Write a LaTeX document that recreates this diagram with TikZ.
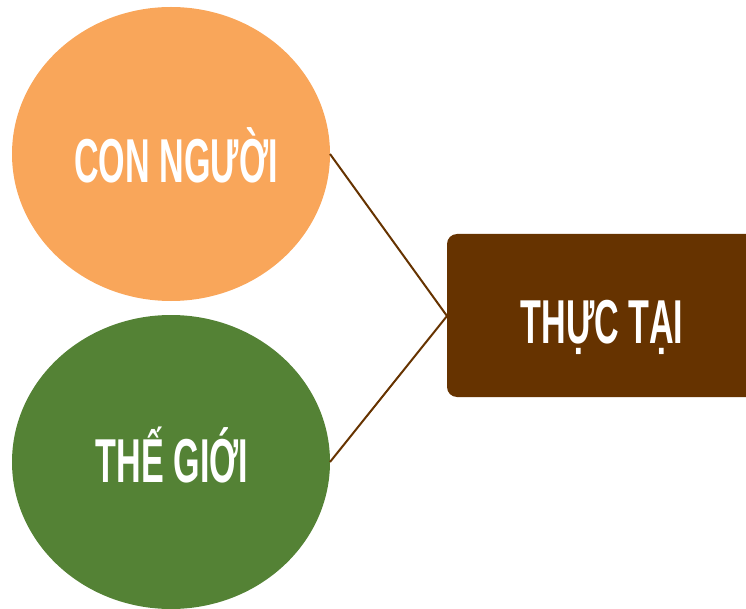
\documentclass[tikz,border=0pt]{standalone}
\usepackage{fontspec}
\newfontfamily\condfont[FakeStretch=0.55]{Liberation Sans}
\definecolor{cOrange}{HTML}{F9A65A}
\definecolor{cGreen}{HTML}{548235}
\definecolor{cBrown}{HTML}{663300}
\begin{document}
\begin{tikzpicture}[x=1pt,y=-1pt,
  lbl/.style={text=white,font=\condfont\bfseries\fontsize{62}{62}\selectfont,anchor=base,inner sep=0pt},
  link/.style={draw=cBrown,line width=2pt}]
\useasboundingbox (0,0) rectangle (746,609);
\clip (0,0) rectangle (746,609);
\fill[cOrange] (171,154) ellipse [x radius=159, y radius=147];
\fill[cGreen] (171,462) ellipse [x radius=159, y radius=147];
\fill[cBrown,rounded corners=10pt] (447,234) rectangle (760,397);
\coordinate (a) at (330,154);
\coordinate (b) at (330,462);
\coordinate (c) at (447,316);
\draw[link] (a) -- (c) -- (b);
\node[lbl] (t1) at (176,183) {CON NGƯỜI};
\node[lbl] (t2) at (172,482) {THẾ GIỚI};
\node[lbl] (t3) at (602,343) {THỰC TẠI};
\end{tikzpicture}
\end{document}
